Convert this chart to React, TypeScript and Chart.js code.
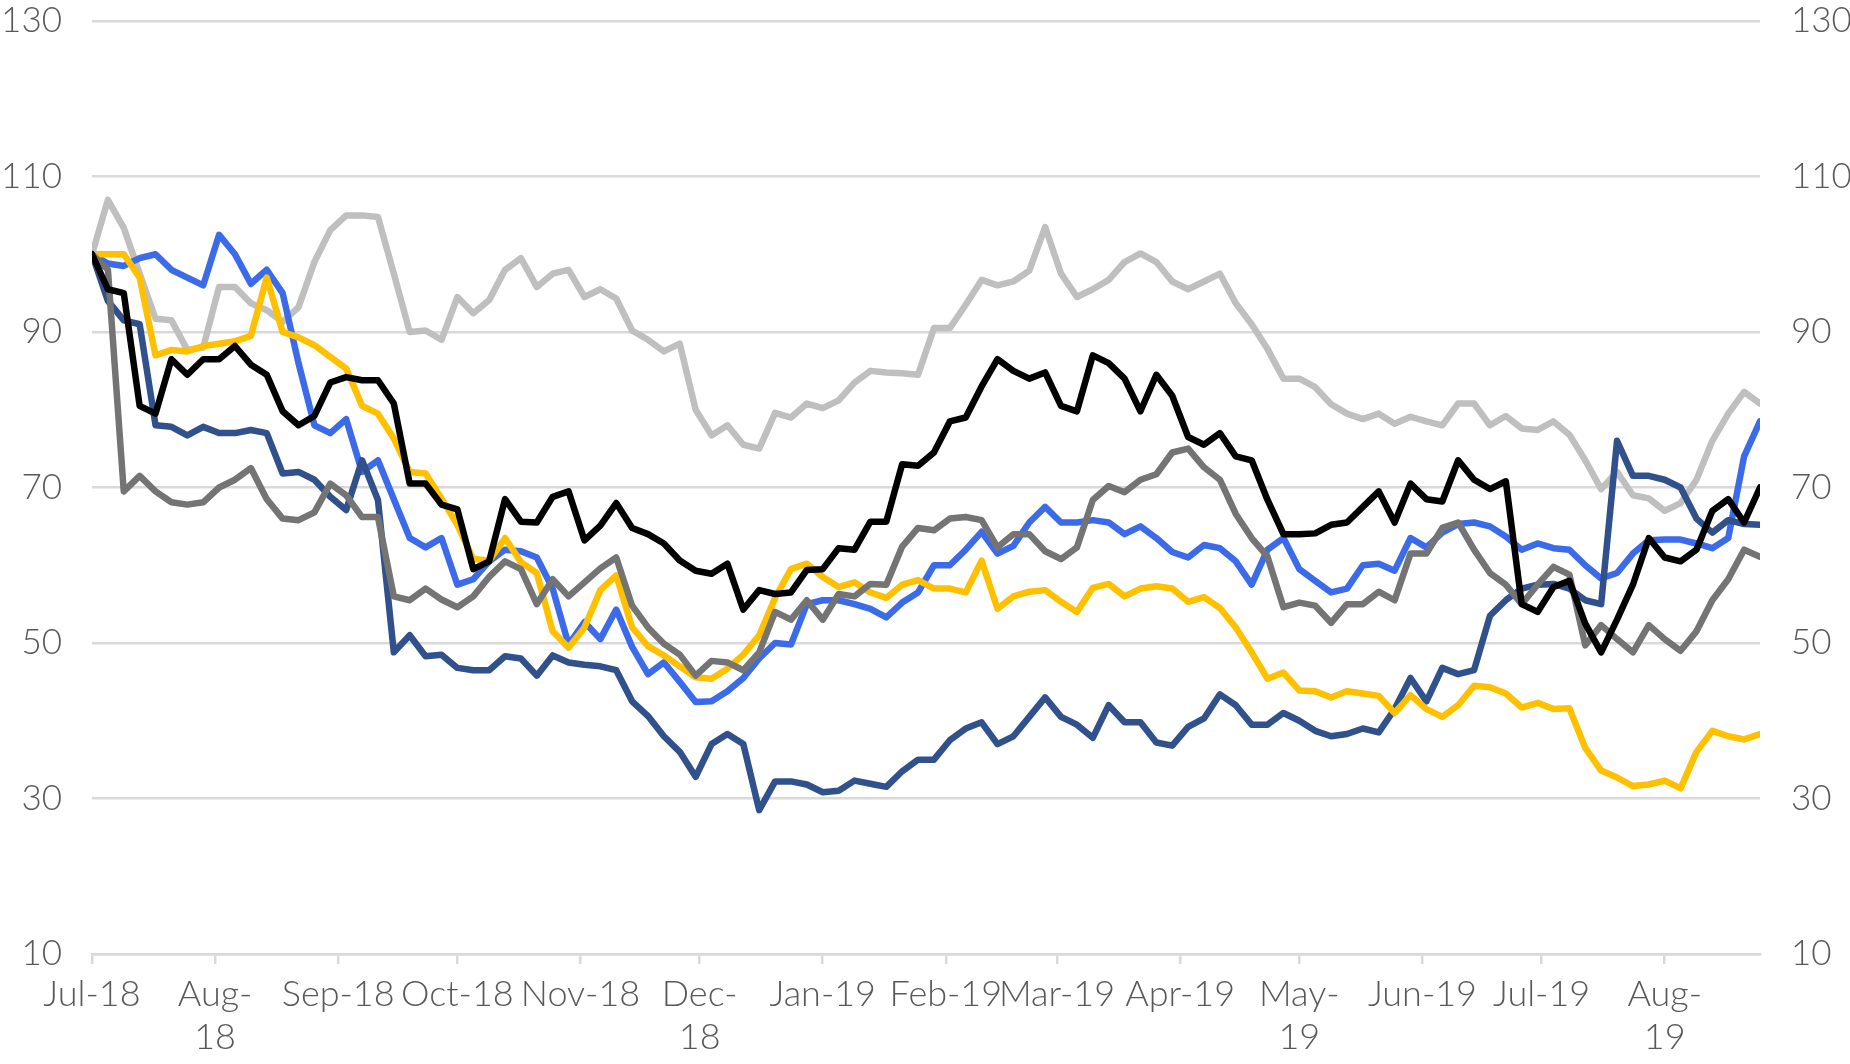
import React, { useEffect, useRef } from "react";
import { Chart, registerables } from "chart.js";

Chart.register(...registerables);

// Observation days (days since 1 Jul 2018), one every 4 days
const STEP_DAYS = 4;
const obsDays: number[] = Array.from({ length: 106 }, (_, i) => i * STEP_DAYS);

// Month tick positions (days since 1 Jul 2018) and labels
const monthTickDays = [0, 31, 62, 92, 123, 153, 184, 215, 243, 274, 304, 335, 365, 396];
const monthLabels: (string | string[])[] = [
  "Jul-18", ["Aug-", "18"], "Sep-18", "Oct-18", "Nov-18", ["Dec-", "18"],
  "Jan-19", "Feb-19", "Mar-19", "Apr-19", ["May-", "19"], "Jun-19", "Jul-19", ["Aug-", "19"],
];

const yTicks = [10, 30, 50, 70, 90, 110, 130];

const lightGraySeries = [
  100, 107, 103.4, 97.5, 91.7, 91.5, 87.7, 88, 95.8, 95.8, 93.7, 92.8, 91.3, 93.2, 99, 103.1, 105, 105, 104.8, 97.5, 90, 90.2, 89, 94.5, 92.4, 94.1, 98,
  99.5, 95.8, 97.5, 98, 94.5, 95.5, 94.3, 90.2, 89, 87.5, 88.5, 80, 76.7, 78, 75.5, 75, 79.6, 79, 80.8, 80.2, 81.2, 83.5, 85, 84.8, 84.7, 84.5, 90.5,
  90.5, 93.5, 96.7, 96, 96.5, 97.9, 103.5, 97.5, 94.5, 95.5, 96.7, 99, 100.1, 99, 96.5, 95.5, 96.5, 97.5, 93.7, 91, 87.8, 84, 84, 82.9, 80.7, 79.5,
  78.8, 79.5, 78.2, 79.1, 78.5, 78, 80.8, 80.8, 78, 79.2, 77.6, 77.4, 78.5, 76.8, 73.5, 69.8, 72, 69, 68.6, 67, 68, 71, 76, 79.5, 82.3, 80.8,
];

const blueSeries = [
  100, 98.8, 98.5, 99.5, 100, 98, 97, 96, 102.5, 100, 96.2, 98, 95, 86, 78, 77, 78.8, 72, 73.5, 68.5, 63.5, 62.3, 63.5, 57.5, 58.2, 60.5, 62,
  61.8, 61, 57, 49.8, 52.7, 50.5, 54.3, 49.5, 46, 47.5, 45, 42.4, 42.5, 43.8, 45.5, 48, 50, 49.8, 55, 55.5, 55.5, 55, 54.4, 53.3, 55.2, 56.5, 60,
  60, 62, 64.3, 61.5, 62.5, 65.5, 67.5, 65.5, 65.5, 65.8, 65.5, 64, 65, 63.5, 61.7, 61, 62.6, 62.2, 60.5, 57.5, 62, 63.5, 59.5, 58, 56.5, 57,
  60, 60.2, 59.3, 63.5, 62.3, 64.2, 65.3, 65.5, 65, 63.7, 62, 62.8, 62.2, 62, 60, 58.3, 59, 61.5, 63.2, 63.3, 63.3, 62.8, 62.2, 63.5, 74, 78.5,
];

const navySeries = [
  100, 94, 91.5, 91, 78, 77.8, 76.7, 77.8, 77, 77, 77.4, 77, 71.8, 72, 71, 68.8, 67.1, 73.5, 68.4, 48.8, 51, 48.3, 48.5, 46.8, 46.5, 46.5, 48.3,
  48, 45.8, 48.4, 47.5, 47.2, 47, 46.5, 42.5, 40.6, 38, 36, 32.8, 37, 38.3, 37, 28.5, 32.2, 32.2, 31.8, 30.8, 31, 32.3, 31.9, 31.5, 33.5, 35, 35,
  37.5, 39, 39.8, 37, 38, 40.5, 43, 40.5, 39.5, 37.8, 42, 39.8, 39.8, 37.2, 36.8, 39.2, 40.3, 43.4, 42, 39.5, 39.5, 41, 40, 38.7, 38, 38.3,
  39, 38.5, 41.5, 45.5, 42.5, 46.8, 46, 46.5, 53.5, 55.5, 57, 57.5, 57.6, 57, 55.5, 55, 76, 71.5, 71.5, 71, 70, 66, 64.2, 65.8, 65.3, 65.2,
];

const goldSeries = [
  100, 100, 100, 97, 87, 87.7, 87.5, 88.2, 88.5, 88.8, 89.5, 97, 90, 89.3, 88.3, 86.8, 85.3, 80.5, 79.5, 76.3, 72, 71.8, 68.6, 65.2, 60.8, 60.6, 63.5,
  60.4, 59, 51.5, 49.4, 52, 56.8, 58.7, 52, 49.6, 48.4, 47, 45.6, 45.4, 46.7, 48.5, 51, 55.8, 59.5, 60.2, 58.5, 57.2, 57.8, 56.5, 55.8, 57.5, 58.1, 57,
  57, 56.5, 60.6, 54.4, 56, 56.6, 56.8, 55.3, 54, 57.1, 57.6, 56, 57, 57.3, 57, 55.3, 55.9, 54.5, 52, 48.8, 45.4, 46.2, 43.9, 43.8, 43, 43.8,
  43.5, 43.2, 41, 43.3, 41.5, 40.5, 42, 44.5, 44.3, 43.5, 41.7, 42.3, 41.5, 41.6, 36.5, 33.6, 32.7, 31.6, 31.8, 32.3, 31.3, 36, 38.7, 38, 37.6, 38.3,
];

const blackSeries = [
  100, 95.5, 95, 80.5, 79.5, 86.5, 84.5, 86.5, 86.5, 88.2, 85.8, 84.5, 79.8, 78, 79.2, 83.5, 84.2, 83.8, 83.8, 80.8, 70.5, 70.5, 67.8, 67.2, 59.5, 60.5, 68.5,
  65.6, 65.5, 68.8, 69.5, 63.2, 65.1, 68, 64.8, 64, 62.8, 60.6, 59.3, 58.9, 60.2, 54.3, 56.8, 56.3, 56.5, 59.4, 59.5, 62.2, 62, 65.6, 65.6, 73, 72.8, 74.5,
  78.5, 79, 83, 86.5, 85, 84, 84.8, 80.5, 79.8, 87, 86, 84, 79.8, 84.5, 81.8, 76.5, 75.5, 77, 74, 73.5, 68.4, 64, 64, 64.1, 65.2, 65.5,
  67.5, 69.5, 65.5, 70.5, 68.5, 68.2, 73.5, 71, 69.8, 70.8, 55, 54, 57.2, 58, 52.5, 48.8, 53, 57.5, 63.5, 61, 60.5, 62, 67, 68.5, 65.5, 70,
];

const darkGraySeries = [
  100, 98, 69.5, 71.5, 69.5, 68.1, 67.8, 68.1, 70, 71, 72.5, 68.5, 66, 65.8, 66.8, 70.5, 69, 66.2, 66.2, 56, 55.5, 57, 55.6, 54.6, 56, 58.5, 60.5,
  59.5, 55, 58.2, 56, 57.8, 59.6, 61, 54.8, 52, 49.9, 48.5, 45.8, 47.7, 47.5, 46.5, 48.8, 54, 53, 55.5, 53, 56.3, 56, 57.6, 57.5, 62.4, 64.8, 64.5,
  66, 66.2, 65.8, 62.3, 64, 64, 61.8, 60.8, 62.3, 68.4, 70.2, 69.4, 71, 71.7, 74.5, 75, 72.6, 71, 66.6, 63.5, 61.1, 54.6, 55.2, 54.8, 52.6, 55,
  55, 56.6, 55.5, 61.5, 61.5, 64.8, 65.5, 62, 59, 57.5, 55, 57.5, 59.8, 58.8, 49.7, 52.3, 50.5, 48.8, 52.3, 50.5, 49, 51.5, 55.5, 58.2, 62, 61.1,
];

// Drawing order: first dataset ends up on top in Chart.js
const seriesDefs = [
  { name: "Series 5", values: blackSeries, color: "#000000" },
  { name: "Series 6", values: darkGraySeries, color: "#747474" },
  { name: "Series 4", values: goldSeries, color: "#FFC000" },
  { name: "Series 3", values: navySeries, color: "#30518C" },
  { name: "Series 2", values: blueSeries, color: "#3B6BE8" },
  { name: "Series 1", values: lightGraySeries, color: "#BFBFBF" },
];

const FONT_FAMILY = "Lato, 'Noto Sans', sans-serif";
const X_FONT = { family: FONT_FAMILY, size: 36, weight: "300" };
const Y_FONT = { family: FONT_FAMILY, size: 35, weight: "300" };
const TEXT_COLOR = "#595959";
const GRID_COLOR = "#D9D9D9";

export default function App() {
  const canvasRef = useRef<HTMLCanvasElement | null>(null);

  useEffect(() => {
    const canvas = canvasRef.current;
    if (!canvas) return;
    const chart = new Chart(canvas, {
      type: "line",
      data: {
        datasets: seriesDefs.map((s) => ({
          label: s.name,
          data: obsDays.map((d, i) => ({ x: d, y: s.values[i] })),
          borderColor: s.color,
          backgroundColor: s.color,
          borderWidth: 6.5,
          pointRadius: 0,
          tension: 0,
          fill: false,
          borderJoinStyle: "round" as const,
          borderCapStyle: "round" as const,
        })),
      },
      options: {
        animation: false,
        responsive: false,
        maintainAspectRatio: false,
        layout: { padding: { top: 21, left: 0, right: 0, bottom: 0 } },
        plugins: {
          legend: { display: false },
          tooltip: { enabled: false },
          title: { display: false },
        },
        scales: {
          x: {
            type: "linear",
            position: "bottom",
            min: 0,
            max: 420,
            afterBuildTicks: (scale: any) => {
              scale.ticks = monthTickDays.map((v) => ({ value: v }));
            },
            afterFit: (scale: any) => {
              scale.height = 110;
              scale.paddingLeft = 0;
              scale.paddingRight = 0;
            },
            ticks: {
              autoSkip: false,
              maxRotation: 0,
              minRotation: 0,
              padding: 9,
              color: TEXT_COLOR,
              font: X_FONT,
              callback: (_v: any, i: number) => monthLabels[i],
            },
            grid: {
              display: true,
              drawOnChartArea: false,
              drawTicks: true,
              tickLength: 10,
              tickColor: GRID_COLOR,
              color: GRID_COLOR,
              lineWidth: 2.5,
            },
            border: { display: true, color: GRID_COLOR, width: 2.5 },
          },
          y: {
            type: "linear",
            position: "left",
            min: 10,
            max: 130,
            afterBuildTicks: (scale: any) => {
              scale.ticks = yTicks.map((v) => ({ value: v }));
            },
            afterFit: (scale: any) => {
              scale.width = 92;
              scale.paddingTop = 0;
              scale.paddingBottom = 0;
            },
            ticks: { padding: 30, color: TEXT_COLOR, font: Y_FONT },
            grid: { color: GRID_COLOR, lineWidth: 2.5, drawTicks: false },
            border: { display: false },
          },
          y2: {
            type: "linear",
            position: "right",
            min: 10,
            max: 130,
            afterBuildTicks: (scale: any) => {
              scale.ticks = yTicks.map((v) => ({ value: v }));
            },
            afterFit: (scale: any) => {
              scale.width = 90;
              scale.paddingTop = 0;
              scale.paddingBottom = 0;
            },
            ticks: { padding: 31, color: TEXT_COLOR, font: Y_FONT },
            grid: { display: false, drawOnChartArea: false, drawTicks: false },
            border: { display: false },
          },
        },
      } as any,
    });
    return () => chart.destroy();
  }, []);

  return (
    <div style={{ position: "absolute", left: 0, top: 0, width: 1850, height: 1064, background: "#ffffff" }}>
      <canvas ref={canvasRef} width={1850} height={1064} style={{ display: "block", width: 1850, height: 1064 }} />
    </div>
  );
}
